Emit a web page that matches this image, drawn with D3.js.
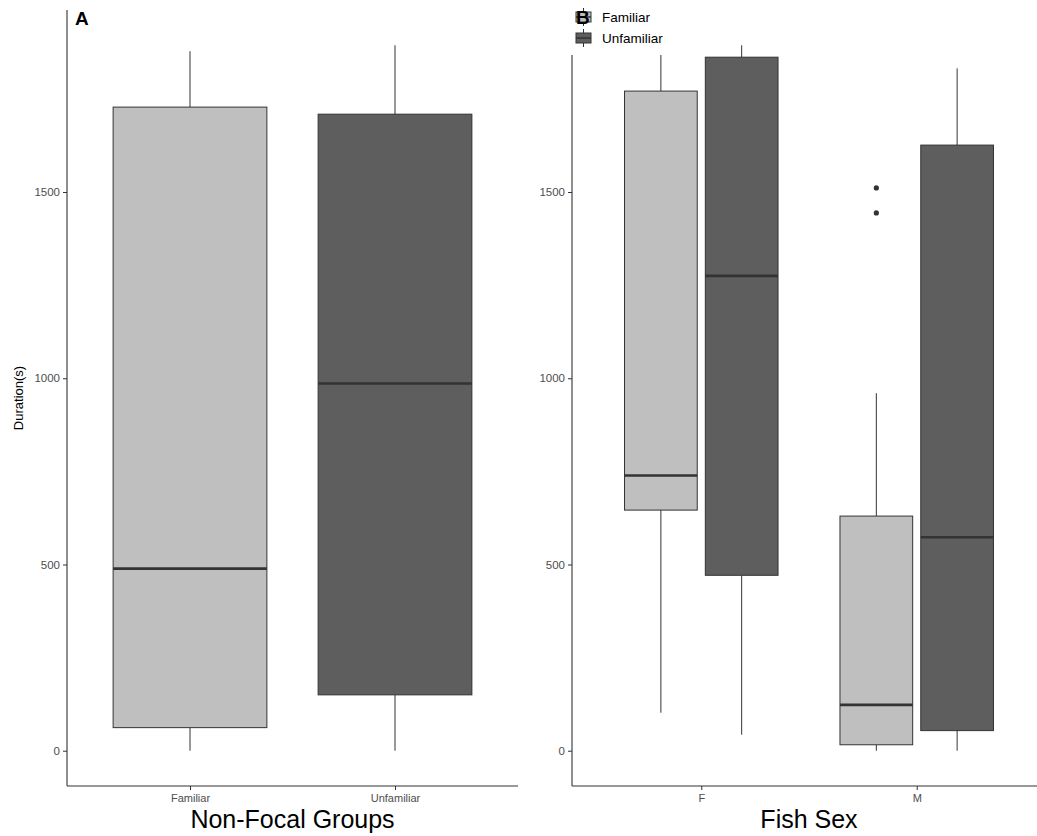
<!DOCTYPE html>
<html>
<head>
<meta charset="utf-8">
<script src="https://cdn.jsdelivr.net/npm/d3@7"></script>
<style>
  body { margin: 0; background: #fff; }
  text { font-family: "Liberation Sans", Arial, sans-serif; }
</style>
</head>
<body>
<script>
'use strict';

// panel A: duration by non-focal group
const groupCats = ["Familiar", "Unfamiliar"];
const groupMin = [0, 0];
const groupQ1 = [62, 150];
const groupMedian = [489, 986];
const groupQ3 = [1728, 1709];
const groupMax = [1878, 1894];

// panel B: duration by fish sex, split by group
const sexCats = ["F", "M"];
const sexFamMin = [102, 0];
const sexFamQ1 = [646, 16];
const sexFamMedian = [739, 123];
const sexFamQ3 = [1771, 630];
const sexFamMax = [1880, 960];
const sexUnfMin = [43, 0];
const sexUnfQ1 = [471, 54];
const sexUnfMedian = [1275, 573];
const sexUnfQ3 = [1862, 1626];
const sexUnfMax = [1894, 1832];
// outliers: [sex, group, value]
const outliers = [["M", "Familiar", 1511], ["M", "Familiar", 1444]];

const yTicks = [0, 500, 1000, 1500];
const fills = { "Familiar": "#BFBFBF", "Unfamiliar": "#5E5E5E" };
const stroke = "#333333";

const svg = d3.select("body").append("svg")
  .attr("width", 1037).attr("height", 836);

// shared y scale (ggplot 5% expansion)
const yScale = d3.scaleLinear()
  .domain([-94.7, 1988.7])
  .range([786, 10]);

function drawBox(g, cx, w, d, fill) {
  g.append("line")
    .attr("x1", cx).attr("x2", cx)
    .attr("y1", yScale(d.max)).attr("y2", yScale(d.q3))
    .attr("stroke", stroke).attr("stroke-width", 1);
  g.append("line")
    .attr("x1", cx).attr("x2", cx)
    .attr("y1", yScale(d.q1)).attr("y2", yScale(d.min))
    .attr("stroke", stroke).attr("stroke-width", 1);
  g.append("rect")
    .attr("x", cx - w / 2).attr("width", w)
    .attr("y", yScale(d.q3)).attr("height", yScale(d.q1) - yScale(d.q3))
    .attr("fill", fill).attr("stroke", stroke).attr("stroke-width", 1);
  g.append("line")
    .attr("x1", cx - w / 2).attr("x2", cx + w / 2)
    .attr("y1", yScale(d.median)).attr("y2", yScale(d.median))
    .attr("stroke", stroke).attr("stroke-width", 2.6);
}

function drawAxes(xScale, x0, x1) {
  let yAxis = d3.axisLeft(yScale).tickValues(yTicks).tickFormat(d3.format("d"))
    .tickSize(4).tickPadding(3);
  let gy = svg.append("g").attr("transform", `translate(${x0},0)`).call(yAxis);
  gy.select(".domain").remove();
  gy.append("line").attr("x1", 0).attr("x2", 0).attr("y1", 10).attr("y2", 786)
    .attr("stroke", stroke).attr("stroke-width", 1.1);
  gy.selectAll(".tick line").attr("stroke", stroke);
  gy.selectAll(".tick text").style("fill", "#4D4D4D")
    .style("font-size", "11.5px").style("font-family", "Liberation Sans, Arial, sans-serif");

  let xAxis = d3.axisBottom(xScale).tickSize(4).tickPadding(4);
  let gx = svg.append("g").attr("transform", "translate(0,786)").call(xAxis);
  gx.select(".domain").remove();
  gx.append("line").attr("x1", x0).attr("x2", x1).attr("y1", 0).attr("y2", 0)
    .attr("stroke", stroke).attr("stroke-width", 1.1);
  gx.selectAll(".tick line").attr("stroke", stroke);
  gx.selectAll(".tick text").style("fill", "#4D4D4D")
    .style("font-size", "11px").style("font-family", "Liberation Sans, Arial, sans-serif");
}

// ---- panel A ----
const xA = d3.scalePoint().domain(groupCats).range([67, 518]).padding(0.6);
const gA = svg.append("g");
groupCats.forEach((c, i) => {
  drawBox(gA, xA(c), xA.step() * 0.75, {
    min: groupMin[i], q1: groupQ1[i], median: groupMedian[i], q3: groupQ3[i], max: groupMax[i]
  }, fills[c]);
});
drawAxes(xA, 67, 518);

svg.append("text")
  .attr("transform", "translate(23,398)rotate(-90)")
  .attr("text-anchor", "middle")
  .style("font-size", "13px")
  .text("Duration(s)");

svg.append("text")
  .attr("x", (67 + 518) / 2).attr("y", 828)
  .attr("text-anchor", "middle")
  .style("font-size", "25px")
  .text("Non-Focal Groups");

svg.append("text")
  .attr("x", 75).attr("y", 25)
  .style("font-size", "19px").style("font-weight", "bold")
  .text("A");

// ---- panel B ----
const xB = d3.scalePoint().domain(sexCats).range([572, 1046]).padding(0.6);
const dodge = xB.step() * 0.75 / 2;
const boxW = dodge * 0.9;
const gB = svg.append("g");
sexCats.forEach((c, i) => {
  drawBox(gB, xB(c) - dodge / 2, boxW, {
    min: sexFamMin[i], q1: sexFamQ1[i], median: sexFamMedian[i], q3: sexFamQ3[i], max: sexFamMax[i]
  }, fills["Familiar"]);
  drawBox(gB, xB(c) + dodge / 2, boxW, {
    min: sexUnfMin[i], q1: sexUnfQ1[i], median: sexUnfMedian[i], q3: sexUnfQ3[i], max: sexUnfMax[i]
  }, fills["Unfamiliar"]);
});
gB.selectAll(".outlier")
  .data(outliers)
  .enter()
  .append("circle")
  .attr("cx", d => xB(d[0]) + (d[1] == "Familiar" ? -dodge / 2 : dodge / 2))
  .attr("cy", d => yScale(d[2]))
  .attr("r", 2.6)
  .attr("fill", stroke);
drawAxes(xB, 572, 1046);

svg.append("text")
  .attr("x", (572 + 1046) / 2).attr("y", 828)
  .attr("text-anchor", "middle")
  .style("font-size", "25px")
  .text("Fish Sex");

// legend sits on top of panel B with white background
const leg = svg.append("g");
leg.append("rect").attr("x", 560).attr("y", 0).attr("width", 130).attr("height", 55)
  .attr("fill", "#fff");
groupCats.forEach((c, i) => {
  let ky = 17 + i * 21;
  leg.append("line").attr("x1", 583.5).attr("x2", 583.5)
    .attr("y1", ky - 9).attr("y2", ky + 9).attr("stroke", stroke);
  leg.append("rect").attr("x", 576).attr("y", ky - 5).attr("width", 15).attr("height", 10)
    .attr("fill", fills[c]).attr("stroke", stroke);
  leg.append("line").attr("x1", 576).attr("x2", 591).attr("y1", ky).attr("y2", ky)
    .attr("stroke", stroke).attr("stroke-width", 1.5);
  leg.append("text").attr("x", 602).attr("y", ky + 5)
    .style("font-size", "13.5px").attr("fill", "#000")
    .text(c);
});
svg.append("text")
  .attr("x", 576).attr("y", 24)
  .style("font-size", "19px").style("font-weight", "bold")
  .text("B");
</script>
</body>
</html>
